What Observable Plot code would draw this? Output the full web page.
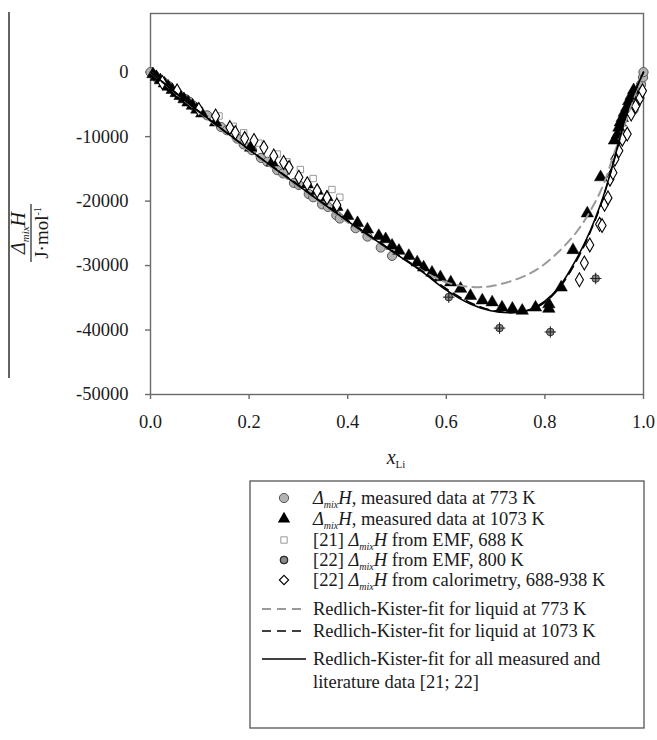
<!DOCTYPE html>
<html><head><meta charset="utf-8">
<script src="https://cdn.jsdelivr.net/npm/d3@7"></script>
<script src="https://cdn.jsdelivr.net/npm/@observablehq/plot@0.6"></script>
<style>
body{margin:0;background:#fff;}
#wrap{position:relative;width:657px;height:740px;background:#fff;font-family:"Liberation Serif","Times New Roman",serif;}
#wrap svg, #wrap svg text{font-family:"Liberation Serif","Times New Roman",serif !important;}
#legend{position:absolute;left:0;top:480px;}
#chart{position:absolute;left:0;top:0;}
</style></head><body><div id="wrap"><div id="chart"></div><div id="legend"></div></div>
<script>
// ---- data ----
const xTicks = [0, 0.2, 0.4, 0.6, 0.8, 1.0];
const yTicks = [0, -10000, -20000, -30000, -40000, -50000];

// measured data at 773 K (grey circles)
const x773 = [0, 0.008, 0.015, 0.027, 0.037, 0.05, 0.061, 0.072, 0.079, 0.087, 0.115, 0.143, 0.155, 0.176, 0.189, 0.206, 0.224, 0.237, 0.257, 0.269, 0.291, 0.301, 0.321, 0.330, 0.348, 0.360, 0.377, 0.384, 0.416, 0.44, 0.467, 0.49, 0.98, 0.984, 0.987, 0.99, 0.995, 0.999, 1.0];
const y773 = [0, -500, -1050, -1600, -2170, -3000, -3700, -4200, -4600, -5200, -6700, -8500, -9000, -10300, -11200, -12100, -13300, -13900, -15200, -15700, -17200, -17500, -18900, -19400, -20500, -20900, -22200, -22700, -24200, -25500, -27200, -28500, -5800, -5000, -4000, -2900, -1900, -800, 0];

// measured data at 1073 K (black triangles)
const x1073 = [0.005, 0.012, 0.02, 0.028, 0.036, 0.044, 0.052, 0.06, 0.068, 0.076, 0.085, 0.094, 0.104, 0.132, 0.203, 0.247, 0.318, 0.338, 0.358, 0.378, 0.40, 0.42, 0.44, 0.463, 0.477, 0.49, 0.504, 0.524, 0.541, 0.554, 0.571, 0.588, 0.609, 0.629, 0.649, 0.673, 0.693, 0.713, 0.734, 0.754, 0.781, 0.808, 0.808, 0.833, 0.857, 0.886, 0.913, 0.941, 0.947, 0.95, 0.953, 0.957, 0.961, 0.966, 0.970, 0.975, 0.98];
const y1073 = [-300, -750, -1250, -1750, -2250, -2750, -3250, -3700, -4200, -4700, -5200, -5800, -6400, -7800, -11700, -14000, -17400, -18400, -19400, -20900, -22300, -23400, -24400, -25400, -25900, -26900, -27700, -28500, -29500, -30300, -31100, -31800, -32600, -33600, -34700, -35400, -35700, -36500, -36700, -37000, -36500, -36700, -36000, -33400, -27600, -21900, -16300, -10600, -9700, -8600, -7800, -7100, -6300, -5500, -4500, -3700, -2800];

// [21] EMF, 688 K (open grey squares)
const xEmf688 = [0.139, 0.168, 0.189, 0.22, 0.257, 0.277, 0.304, 0.33, 0.368, 0.384];
const yEmf688 = [-6800, -8400, -9400, -11000, -12700, -13900, -15100, -16500, -18200, -19400];

// [22] EMF, 800 K (crossed grey circles)
const xEmf800 = [0.605, 0.708, 0.811, 0.903];
const yEmf800 = [-34900, -39700, -40300, -32000];

// [22] calorimetry, 688-938 K (open diamonds)
const xCal = [0.024, 0.054, 0.098, 0.132, 0.161, 0.172, 0.191, 0.21, 0.23, 0.25, 0.27, 0.281, 0.301, 0.318, 0.338, 0.358, 0.378, 0.87, 0.88, 0.891, 0.911, 0.916, 0.921, 0.928, 0.932, 0.938, 0.942, 0.95, 0.957, 0.967, 0.975, 0.984, 0.993, 0.998];
const yCal = [-1600, -2900, -5800, -6800, -8600, -9400, -10300, -10600, -11700, -13000, -14000, -14800, -16300, -17300, -18400, -19500, -20600, -32200, -29600, -26800, -23600, -23800, -20500, -19500, -16600, -15600, -13500, -12200, -10400, -9600, -6500, -5300, -4000, -2900];

// Redlich-Kister fit, liquid 773 K (grey dashed)
const xFit773 = [0, 0.1, 0.2, 0.3, 0.4, 0.5, 0.55, 0.6, 0.65, 0.69, 0.75, 0.79, 0.83, 0.866, 0.896, 0.919, 0.94, 0.96, 0.98, 1.0];
const yFit773 = [0, -6300, -12200, -17800, -23300, -28300, -30700, -32600, -33300, -33200, -31900, -30300, -27700, -24600, -21000, -17400, -12700, -8600, -4000, 0];

// Redlich-Kister fit, liquid 1073 K (black dashed)
const xFit1073 = [0, 0.1, 0.2, 0.3, 0.4, 0.5, 0.55, 0.6, 0.65, 0.69, 0.73, 0.77, 0.8, 0.83, 0.866, 0.892, 0.913, 0.93, 0.947, 0.963, 0.98, 1.0];
const yFit1073 = [0, -6200, -12000, -17500, -23000, -28200, -30800, -33600, -35800, -36900, -37300, -36900, -35700, -33400, -29000, -24800, -20700, -16500, -11800, -7200, -3500, 0];

// Redlich-Kister fit, all data (black solid)
const xFitAll = [0, 0.1, 0.2, 0.3, 0.4, 0.5, 0.55, 0.6, 0.65, 0.69, 0.73, 0.77, 0.8, 0.83, 0.866, 0.892, 0.913, 0.93, 0.947, 0.963, 0.98, 1.0];
const yFitAll = [0, -6200, -12000, -17600, -23100, -28300, -30900, -33800, -36000, -37000, -37300, -36800, -35500, -33200, -28700, -24600, -20500, -16400, -11700, -7100, -3500, 0];

const zip = (xs, ys) => xs.map((x, i) => ({x, y: ys[i]}));

const serif = '"Liberation Serif","Times New Roman",serif';
const frameColor = "#6a6a6a";

const plot = Plot.plot({
  width: 657, height: 480,
  marginLeft: 150, marginRight: 14, marginTop: 13, marginBottom: 86,
  style: {fontFamily: serif, fontSize: "18px", color: "#1a1a1a", background: "#fff"},
  x: {domain: [0, 1]},
  y: {domain: [-50000, 9100]},
  marks: [
    Plot.frame({stroke: frameColor, strokeWidth: 1.4}),
    Plot.axisX({ticks: xTicks, tickFormat: d => d.toFixed(1), tickSize: 5, tickPadding: 15, stroke: frameColor, strokeWidth: 1.4, fill: "#1a1a1a", fontSize: 18.5, label: null}),
    Plot.axisY({ticks: yTicks, tickFormat: d => d === 0 ? "0" : "-" + Math.abs(d), tickSize: 5, tickPadding: 17, stroke: frameColor, strokeWidth: 1.4, fill: "#1a1a1a", fontSize: 18.5, label: null}),
    Plot.dot(zip(xEmf688, yEmf688), {x: "x", y: "y", symbol: "square", r: 3.6, fill: "white", stroke: "#9a9a9a", strokeWidth: 1}),
    Plot.dot(zip(x773, y773), {x: "x", y: "y", symbol: "circle", r: 4.6, fill: "#b3b3b3", stroke: "#555", strokeWidth: 1}),
    Plot.dot(zip(x1073, y1073), {x: "x", y: "y", symbol: "triangle", r: 4.6, fill: "black", stroke: "black", strokeWidth: 0.5}),
    Plot.dot(zip(xEmf800, yEmf800), {x: "x", y: "y", symbol: "circle", r: 3.8, fill: "#8a8a8a", stroke: "#333", strokeWidth: 1}),
    Plot.dot(zip(xEmf800, yEmf800), {x: "x", y: "y", symbol: "plus", r: 3.8, stroke: "#222", strokeWidth: 1}),
    Plot.dot(zip(xCal, yCal), {x: "x", y: "y", symbol: "diamond", r: 4.2, fill: "white", stroke: "black", strokeWidth: 1.1}),
    Plot.line(zip(xFit773, yFit773), {x: "x", y: "y", curve: "catmull-rom", stroke: "#9a9a9a", strokeWidth: 2, strokeDasharray: "9,6"}),
    Plot.line(zip(xFit1073, yFit1073), {x: "x", y: "y", curve: "catmull-rom", stroke: "black", strokeWidth: 1.6, strokeDasharray: "9,6"}),
    Plot.line(zip(xFitAll, yFitAll), {x: "x", y: "y", curve: "catmull-rom", stroke: "black", strokeWidth: 1.6})
  ]
});
document.getElementById("chart").appendChild(plot);

// ---- y label (fraction) and x label ----
const S = d3.select(plot);
S.append("line").attr("x1", 9).attr("x2", 9).attr("y1", 12).attr("y2", 378).attr("stroke", "#222").attr("stroke-width", 1.4);
const g = S.append("g").attr("transform", "translate(31,233) rotate(-90)").style("font-family", serif).attr("fill", "#1a1a1a");
const num = g.append("text").attr("x", 0).attr("y", -6).attr("text-anchor", "middle").style("font-size", "20px").style("font-style", "italic");
num.append("tspan").text("Δ");
num.append("tspan").attr("dy", 4).style("font-size", "11px").text("mix");
num.append("tspan").attr("dy", -4).text("H");
g.append("line").attr("x1", -29).attr("x2", 29).attr("y1", 0).attr("y2", 0).attr("stroke", "#222").attr("stroke-width", 1.2);
const den = g.append("text").attr("x", 0).attr("y", 17).attr("text-anchor", "middle").style("font-size", "19px");
den.append("tspan").text("J·mol");
den.append("tspan").attr("dy", -7).style("font-size", "10px").text("-1");

const xl = S.append("text").attr("x", 396).attr("y", 464).attr("text-anchor", "middle").style("font-family", serif).style("font-size", "20px").attr("fill", "#1a1a1a");
xl.append("tspan").style("font-style", "italic").text("x");
xl.append("tspan").attr("dy", 4).style("font-size", "11px").text("Li");

// ---- legend ----
const legendRows = [
  {kind: "circle", parts: [["Δ", "i"], ["mix", "s"], ["H", "i"], [", measured data at 773 K", ""]]},
  {kind: "triangle", parts: [["Δ", "i"], ["mix", "s"], ["H", "i"], [", measured data at 1073 K", ""]]},
  {kind: "square", parts: [["[21] ", ""], ["Δ", "i"], ["mix", "s"], ["H", "i"], [" from EMF, 688 K", ""]]},
  {kind: "crossed", parts: [["[22] ", ""], ["Δ", "i"], ["mix", "s"], ["H", "i"], [" from EMF, 800 K", ""]]},
  {kind: "diamond", parts: [["[22] ", ""], ["Δ", "i"], ["mix", "s"], ["H", "i"], [" from calorimetry, 688-938 K", ""]]},
  {kind: "greydash", parts: [["Redlich-Kister-fit for liquid at 773 K", ""]]},
  {kind: "blackdash", parts: [["Redlich-Kister-fit for liquid at 1073 K", ""]]},
  {kind: "solid", parts: [["Redlich-Kister-fit for all measured and", ""]], extra: "literature data [21; 22]"}
];
const rowY = [498, 519, 540, 560, 580, 609, 631, 659];
const oy = 480;
const L = d3.select("#legend").append("svg").attr("width", 657).attr("height", 260).style("font-family", serif);
L.append("rect").attr("x", 250).attr("y", 481 - oy).attr("width", 394).attr("height", 247).attr("fill", "white").attr("stroke", "#555").attr("stroke-width", 1.3);
const symX = 284, txtX = 313;
legendRows.forEach((row, i) => {
  const cy = rowY[i] - oy;
  const area = r => Math.PI * r * r;
  if (row.kind === "circle") L.append("path").attr("transform", `translate(${symX},${cy})`).attr("d", d3.symbol(d3.symbolCircle, area(4.6))()).attr("fill", "#b3b3b3").attr("stroke", "#555");
  if (row.kind === "triangle") L.append("path").attr("transform", `translate(${symX},${cy})`).attr("d", d3.symbol(d3.symbolTriangle, area(4.6))()).attr("fill", "black");
  if (row.kind === "square") L.append("path").attr("transform", `translate(${symX},${cy})`).attr("d", d3.symbol(d3.symbolSquare, area(3.6))()).attr("fill", "white").attr("stroke", "#9a9a9a");
  if (row.kind === "crossed") {
    L.append("path").attr("transform", `translate(${symX},${cy})`).attr("d", d3.symbol(d3.symbolCircle, area(3.8))()).attr("fill", "#8a8a8a").attr("stroke", "#333");
    L.append("path").attr("transform", `translate(${symX},${cy})`).attr("d", d3.symbol(d3.symbolPlus2, area(3.8))()).attr("fill", "none").attr("stroke", "#222");
  }
  if (row.kind === "diamond") L.append("path").attr("transform", `translate(${symX},${cy})`).attr("d", d3.symbol(d3.symbolDiamond2, area(4.2))()).attr("fill", "white").attr("stroke", "black").attr("stroke-width", 1.1);
  if (row.kind === "greydash") L.append("line").attr("x1", 262).attr("x2", 306).attr("y1", cy).attr("y2", cy).attr("stroke", "#9a9a9a").attr("stroke-width", 2).attr("stroke-dasharray", "9,6");
  if (row.kind === "blackdash") L.append("line").attr("x1", 262).attr("x2", 306).attr("y1", cy).attr("y2", cy).attr("stroke", "black").attr("stroke-width", 1.6).attr("stroke-dasharray", "9,6");
  if (row.kind === "solid") L.append("line").attr("x1", 262).attr("x2", 306).attr("y1", cy).attr("y2", cy).attr("stroke", "black").attr("stroke-width", 1.6);
  const t = L.append("text").attr("x", txtX).attr("y", cy + 6).style("font-size", "18.5px").attr("fill", "#1a1a1a");
  row.parts.forEach(([s, k], j) => {
    const ts = t.append("tspan").text(s);
    if (k === "i") ts.style("font-style", "italic");
    if (k === "s") ts.style("font-style", "italic").style("font-size", "10px").attr("dy", 4);
    if (k !== "s" && j > 0 && row.parts[j - 1][1] === "s") ts.attr("dy", -4);
  });
  if (row.extra) L.append("text").attr("x", txtX).attr("y", cy + 6 + 23).style("font-size", "18.5px").attr("fill", "#1a1a1a").text(row.extra);
});
</script>
</body></html>
